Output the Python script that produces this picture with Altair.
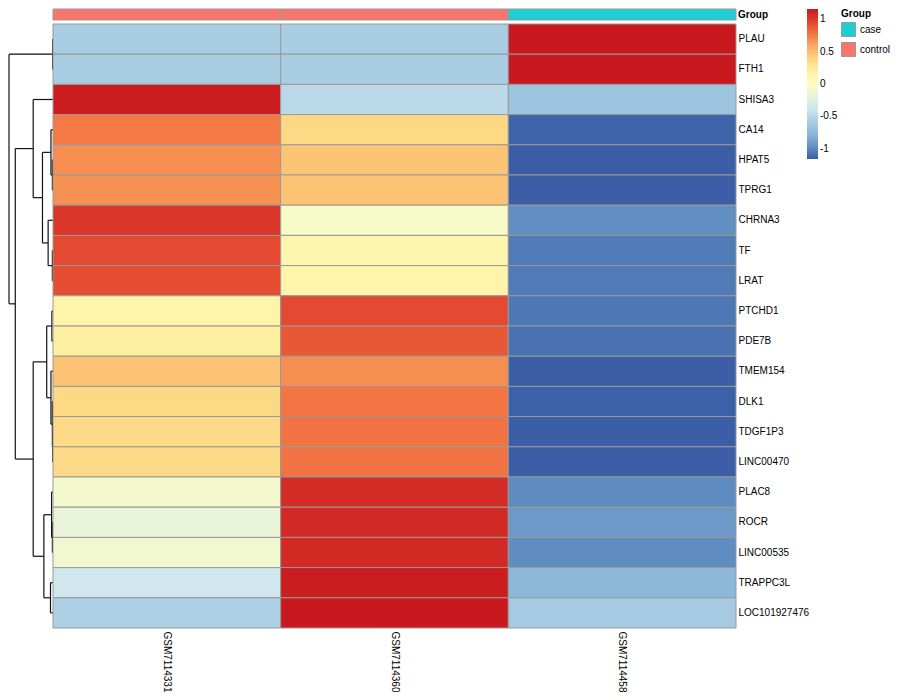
import altair as alt
import pandas as pd

samples = ["GSM7114331", "GSM7114360", "GSM7114458"]
sample_group = ["control", "control", "case"]
genes = ["PLAU", "FTH1", "SHISA3", "CA14", "HPAT5", "TPRG1", "CHRNA3", "TF", "LRAT",
         "PTCHD1", "PDE7B", "TMEM154", "DLK1", "TDGF1P3", "LINC00470", "PLAC8", "ROCR",
         "LINC00535", "TRAPPC3L", "LOC101927476"]

# row-scaled expression (z-scores) per sample
z_s1 = [-0.577, -0.577, 1.14, 0.75, 0.68, 0.67, 1.02, 0.93, 0.92,
        0.13, 0.20, 0.48, 0.38, 0.37, 0.37, -0.08, -0.16, -0.10, -0.37, -0.55]
z_s2 = [-0.577, -0.577, -0.48, 0.38, 0.47, 0.48, -0.05, 0.12, 0.13,
        0.93, 0.88, 0.68, 0.77, 0.78, 0.78, 1.07, 1.08, 1.08, 1.14, 1.155]
z_s3 = [1.155, 1.155, -0.66, -1.13, -1.15, -1.15, -0.97, -1.05, -1.05,
        -1.06, -1.08, -1.15, -1.14, -1.15, -1.15, -0.99, -0.92, -0.98, -0.77, -0.60]

# hierarchical clustering of rows (complete linkage); children are genes or earlier merges "n<k>"
merge_left = ["HPAT5", "TF", "TDGF1P3", "PLAU", "DLK1", "ROCR", "PTCHD1", "PLAC8", "CA14",
              "TMEM154", "TRAPPC3L", "CHRNA3", "n6", "n7", "n8", "SHISA3", "n12", "n15", "n3"]
merge_right = ["TPRG1", "LRAT", "LINC00470", "FTH1", "n2", "LINC00535", "PDE7B", "n5", "n0",
               "n4", "LOC101927476", "n1", "n9", "n10", "n11", "n14", "n13", "n16", "n17"]
merge_height = [0.04, 0.04, 0.02, 0.02, 0.04, 0.04, 0.07, 0.09, 0.13,
                0.13, 0.16, 0.31, 0.40, 0.58, 0.67, 1.26, 1.26, 2.40, 2.80]

color_stops = [-1.155, -1.0, -0.77, -0.577, -0.38, -0.15, 0.0, 0.2, 0.38, 0.55, 0.75, 0.95, 1.155]
color_hex = ["#3A5DA6", "#5B89BF", "#8DB8D8", "#A9CDE3", "#CFE6EF", "#EAF5DA", "#FEFEBE",
             "#FEF0A0", "#FDD985", "#FBB469", "#F47A45", "#E2452F", "#C9191E"]

FONT = "Liberation Sans"
GRID = "#999999"

# ---- heatmap table
rows = []
for i, g in enumerate(genes):
    for s, vals in zip(samples, [z_s1, z_s2, z_s3]):
        rows.append({"gene": g, "sample": s, "z": vals[i]})
heat_df = pd.DataFrame(rows)
group_df = pd.DataFrame({"sample": samples, "group": sample_group})

# ---- dendrogram segments from the merge list
pos = {g: i + 0.5 for i, g in enumerate(genes)}
hgt = {g: 0.0 for g in genes}
segs = []
for k, (a, b, h) in enumerate(zip(merge_left, merge_right, merge_height)):
    ya, yb = pos[a], pos[b]
    segs.append({"x": h, "x2": h, "y": ya, "y2": yb})
    segs.append({"x": hgt[a], "x2": h, "y": ya, "y2": ya})
    segs.append({"x": hgt[b], "x2": h, "y": yb, "y2": yb})
    pos[f"n{k}"] = (ya + yb) / 2
    hgt[f"n{k}"] = h
seg_df = pd.DataFrame(segs)

W, H = 683, 604

dendro = alt.Chart(seg_df).mark_rule(color="#111111", strokeWidth=1.2).encode(
    x=alt.X("x:Q", scale=alt.Scale(domain=[0, max(merge_height)], reverse=True, nice=False, zero=False), axis=None),
    x2="x2:Q",
    y=alt.Y("y:Q", scale=alt.Scale(domain=[0, len(genes)], reverse=True, nice=False, zero=False), axis=None),
    y2="y2:Q",
).properties(width=44, height=H)

heat = alt.Chart(heat_df).mark_rect(stroke=GRID, strokeWidth=1).encode(
    x=alt.X("sample:N", sort=samples,
            axis=alt.Axis(labelAngle=90, ticks=False, domain=False, title=None, labelPadding=3,
                          labelFontSize=10, labelFont=FONT, labelColor="#000000")),
    y=alt.Y("gene:N", sort=genes,
            axis=alt.Axis(orient="right", ticks=False, domain=False, title=None, labelPadding=2,
                          labelFontSize=10, labelFont=FONT, labelColor="#000000")),
    color=alt.Color("z:Q",
                    scale=alt.Scale(domain=color_stops, range=color_hex, interpolate="rgb"),
                    legend=alt.Legend(orient="none", legendX=754, legendY=-15, title=None, padding=0,
                                      direction="vertical", gradientLength=150, gradientThickness=11,
                                      gradientStrokeWidth=0, values=[-1, -0.5, 0, 0.5, 1],
                                      labelFontSize=10, labelFont=FONT, labelColor="#000000",
                                      labelExpr="datum.value < 0 ? '-' + abs(datum.value) : '' + datum.value")),
)

gbar = alt.Chart(group_df).mark_rect(stroke=GRID, strokeWidth=1).encode(
    x=alt.X("sample:N", sort=samples),
    y=alt.value(-15),
    y2=alt.value(-4),
    color=alt.Color("group:N",
                    scale=alt.Scale(domain=["case", "control"], range=["#1DCFD4", "#F8766D"]),
                    legend=alt.Legend(orient="none", legendX=788, legendY=-15, title="Group", padding=0,
                                      titleFontWeight="bold", titleFontSize=10, titleFont=FONT,
                                      titleColor="#000000", titlePadding=3,
                                      labelFontSize=10, labelFont=FONT, labelColor="#000000",
                                      symbolType="square", symbolSize=196, rowPadding=1,
                                      symbolStrokeColor=GRID, symbolStrokeWidth=1, symbolOpacity=1)),
)

gtext = alt.Chart(pd.DataFrame({"t": ["Group"]})).mark_text(
    align="left", baseline="middle", fontWeight="bold", fontSize=10, font=FONT, color="#000000"
).encode(x=alt.value(W + 2), y=alt.value(-9.5), text="t:N")

right = alt.layer(heat, gbar, gtext).resolve_scale(color="independent").properties(width=W, height=H)

chart = alt.hconcat(dendro, right, spacing=0, bounds="flush").properties(
    padding={"left": 0, "top": 0, "right": 0, "bottom": 0}
).configure(font=FONT).configure_view(stroke="transparent", strokeWidth=0)

chart.save("out.html", embed_options={"renderer": "svg", "actions": False})
